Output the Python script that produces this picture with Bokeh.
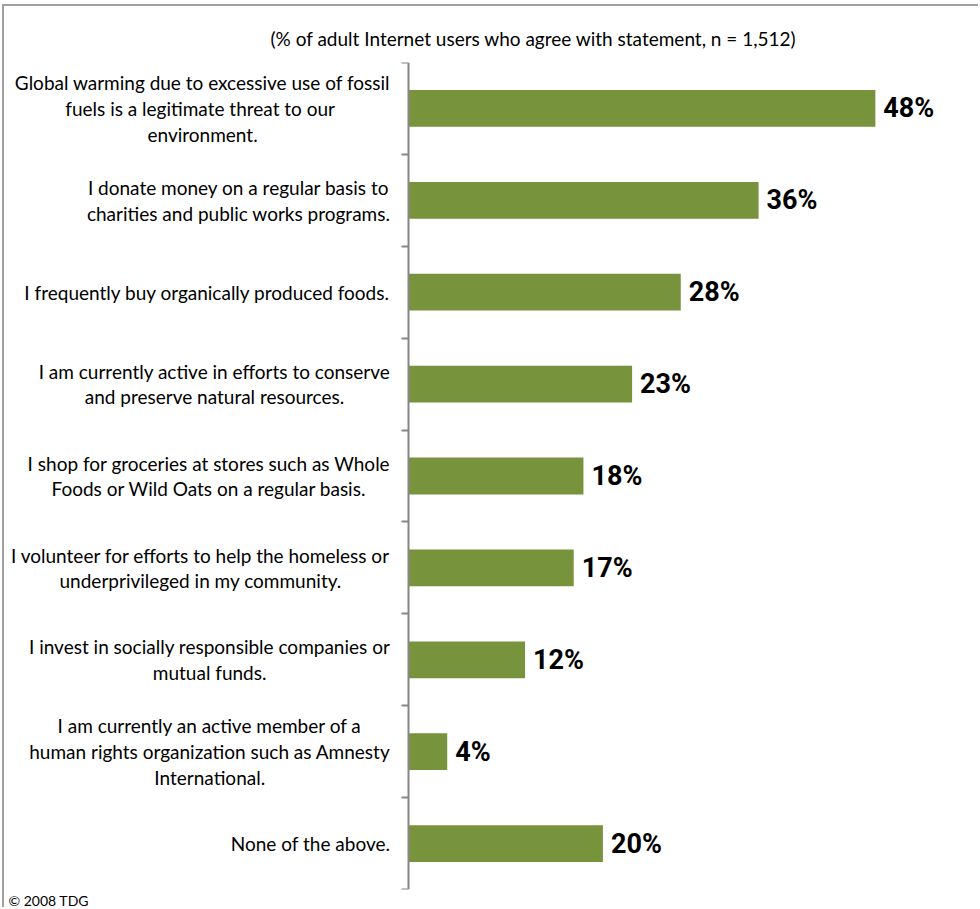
from bokeh.plotting import figure
from bokeh.models import Range1d, FixedTicker, ColumnDataSource, Title
from bokeh.embed import file_html
from bokeh.resources import INLINE
from bokeh.core.properties import value

categories = [
    "Global warming due to excessive use of fossil\nfuels is a legitimate  threat to our\nenvironment.",
    "I donate money on a regular basis to\ncharities and public works programs.",
    "I frequently buy organically produced foods.",
    "I am currently active in efforts to conserve\nand preserve natural resources.",
    "I shop for groceries at stores such as Whole\nFoods or Wild Oats on a regular basis.",
    "I volunteer for efforts to help the homeless or\nunderprivileged in my community.",
    "I invest in socially responsible companies or\nmutual funds.",
    "I am currently an active member of a\nhuman rights organization such as Amnesty\nInternational.",
    "None of the above.",
]
values = [48, 36, 28, 23, 18, 17, 12, 4, 20]
value_labels = [f"{v}%" for v in values]
positions = list(range(len(categories)))

title_text = "(% of adult Internet users who agree with statement,  n = 1,512)"
footer_text = "\u00a9 2008 TDG"

FONT = "Lato"
VFONT = "Roboto"
GREEN = "#77933C"
AXIS_GRAY = "#868686"

src = ColumnDataSource(dict(pos=positions, val=values, lab=value_labels,
                            cat=categories, zero=[0] * len(values)))

p = figure(
    width=976, height=903,
    output_backend="svg", toolbar_location=None,
    x_range=Range1d(-41.5, 58.6), y_range=Range1d(8.5, -0.5),
    min_border_left=0, min_border_right=2, min_border_top=56, min_border_bottom=20,
    styles={
        "margin-left": "2px", "margin-top": "4px",
        "border-left": "2px solid #a0a0a0", "border-top": "2px solid #a0a0a0",
    },
)
p.outline_line_color = None
p.xgrid.visible = False
p.ygrid.visible = False
p.xaxis.visible = False
p.background_fill_color = "white"
p.border_fill_color = "white"

p.hbar(y="pos", left=0, right="val", height=0.4, source=src,
       fill_color=GREEN, line_color=None)

p.text(x="val", y="pos", text="lab", source=src, x_offset=8,
       text_align="left", text_baseline="middle",
       text_font=value(VFONT), text_font_style="bold", text_font_size="27px",
       text_color="black")

# category labels: block anchored right of the axis, lines centred
p.text(x="zero", y="pos", text="cat", source=src, x_offset=-18,
       anchor="center_right", text_align="center", text_baseline="middle",
       text_font=value(FONT), text_font_size="19px", text_line_height=1.12,
       text_color="black")

ya = p.yaxis[0]
ya.fixed_location = 0
ya.ticker = FixedTicker(ticks=[],
                        minor_ticks=[i - 0.5 for i in range(len(categories) + 1)])
ya.major_label_text_font_size = "0px"
ya.major_label_standoff = 0
ya.major_tick_line_color = None
ya.major_tick_out = 0
ya.major_tick_in = 0
ya.minor_tick_out = 7
ya.minor_tick_in = 0
ya.minor_tick_line_color = AXIS_GRAY
ya.minor_tick_line_width = 2
ya.axis_line_color = AXIS_GRAY
ya.axis_line_width = 2

p.add_layout(Title(text=title_text, align="left", offset=266, standoff=26,
                   text_font=FONT, text_font_size="19px",
                   text_font_style="normal", text_color="black"), "above")
p.add_layout(Title(text=footer_text, align="left", offset=4, standoff=0,
                   text_font=FONT, text_font_size="14px",
                   text_font_style="normal", text_color="black"), "below")

open("out.html", "w").write(file_html(p, INLINE))
